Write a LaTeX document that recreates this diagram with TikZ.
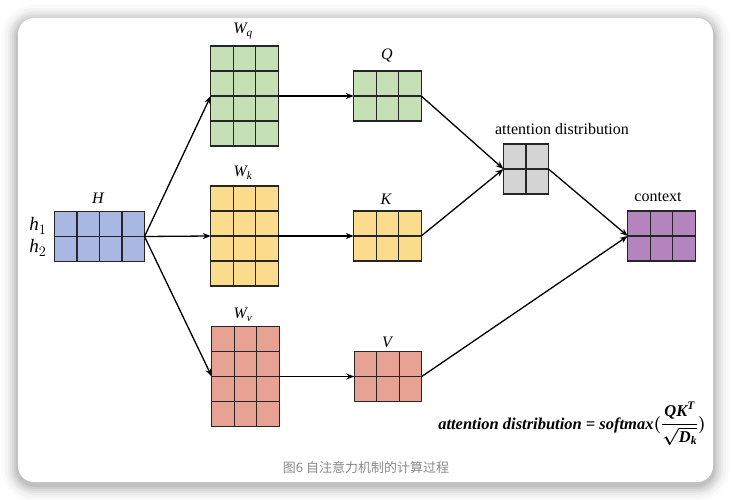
\documentclass[tikz,border=0pt]{standalone}
\usepackage{fontspec}
\usepackage{amsmath}
\setmainfont{Liberation Serif}
\newfontfamily\cjk{Noto Sans CJK SC}
\usetikzlibrary{arrows.meta}
\definecolor{cgreen}{RGB}{197,224,180}
\definecolor{cyellow}{RGB}{250,220,140}
\definecolor{cred}{RGB}{232,162,148}
\definecolor{cblue}{RGB}{169,184,226}
\definecolor{cgray}{RGB}{212,212,212}
\definecolor{cpurple}{RGB}{180,132,190}
\definecolor{captiongray}{RGB}{138,138,138}
\newcommand\mi[1]{\mathit{#1}}
\newcommand\formulatext{\bfseries\itshape attention distribution = softmax\mbox{\boldmath$(\dfrac{\mi{Q}\mi{K}^{\mi{T}}}{\sqrt{\mi{D}_{\mi{k}}}})$}}
\tikzset{
  gridbox/.style={draw=black!85, line width=1.4pt, inner sep=0pt, outer sep=0pt},
  gridline/.style={draw=black!85, line width=1.4pt},
  arr/.style={line width=1.3pt, -{Stealth[length=8pt,width=6pt]}},
  mlabel/.style={font=\fontsize{16}{18}\selectfont, inner sep=1pt},
  tlabel/.style={font=\fontsize{16}{18}\selectfont, inner sep=1pt},
}
\newcommand\mkgrid[6]{%
  \node[gridbox, fill=#6, minimum width=#4*22.5pt, minimum height=#5*25pt] (#1) at (#2,#3) {};
  \pgfmathtruncatemacro\ncm{#4-1}%
  \pgfmathtruncatemacro\nrm{#5-1}%
  \foreach \i in {1,...,\ncm} \draw[gridline] ([xshift=\i*22.5pt]#1.north west) -- ([xshift=\i*22.5pt]#1.south west);
  \foreach \j in {1,...,\nrm} \draw[gridline] ([yshift=-\j*25pt]#1.north west) -- ([yshift=-\j*25pt]#1.north east);
}
\begin{document}
\begin{tikzpicture}[x=1pt,y=-1pt]
\useasboundingbox (0,0) rectangle (731,500);
\fill[white] (0,0) rectangle (731,500);
% card shadow
\foreach \k/\o in {16/0.02,13/0.025,10/0.03,8/0.035,6/0.04,4/0.05,2/0.06}{
  \fill[black, opacity=\o, rounded corners=16+\k] (18-\k,18-\k+3) rectangle (713+\k,482+\k+3);
}
\fill[white, rounded corners=16] (18,18) rectangle (713,482);

% grids
\mkgrid{H}{99.5}{236.5}{4}{2}{cblue}
\mkgrid{Wq}{244.5}{96}{3}{4}{cgreen}
\mkgrid{Wk}{244.5}{236}{3}{4}{cyellow}
\mkgrid{Wv}{245.5}{376.5}{3}{4}{cred}
\mkgrid{Q}{387.5}{96}{3}{2}{cgreen}
\mkgrid{K}{387.5}{236}{3}{2}{cyellow}
\mkgrid{V}{388}{376.5}{3}{2}{cred}
\mkgrid{att}{526}{169}{2}{2}{cgray}
\mkgrid{ctx}{661.5}{236}{3}{2}{cpurple}

% labels
\node[mlabel] (lH) at (98,198) {$\mi{H}$};
\node[mlabel, font=\fontsize{19}{21}\selectfont] (lh1) at (38,226) {$\mi{h}_1$};
\node[mlabel, font=\fontsize{19}{21}\selectfont] (lh2) at (38,248) {$\mi{h}_2$};
\node[mlabel] (lWq) at (243,31) {$\mi{W}_{\mi{q}}$};
\node[mlabel] (lWk) at (243,173) {$\mi{W}_{\mi{k}}$};
\node[mlabel] (lWv) at (243,315) {$\mi{W}_{\mi{v}}$};
\node[mlabel] (lQ) at (387,56) {$\mi{Q}$};
\node[mlabel] (lK) at (386,199) {$\mi{K}$};
\node[mlabel] (lV) at (387,342) {$\mi{V}$};
\node[tlabel] (latt) at (562,129) {attention distribution};
\node[tlabel] (lctx) at (658,197) {context};

% arrows
\draw[arr] (H.east) -- (Wq.west);
\draw[arr] (H.east) -- (Wk.west);
\draw[arr] (H.east) -- (Wv.west);
\draw[arr] (Wq.east) -- (Q.west);
\draw[arr] (Wk.east) -- (K.west);
\draw[arr] (Wv.east) -- (V.west);
\draw[arr] (Q.east) -- (att.west);
\draw[arr] (K.east) -- (att.west);
\draw[arr] (att.east) -- (ctx.west);
\draw[arr] (V.east) -- (ctx.west);

% formula
\node[anchor=east, font=\fontsize{16.5}{18}\selectfont, inner sep=0pt] (formula) at (706,424) {\formulatext};

% caption
\node[font=\cjk\fontsize{13}{15}\selectfont, text=captiongray] (caption) at (366,468) {图6 自注意力机制的计算过程};
\end{tikzpicture}
\end{document}
